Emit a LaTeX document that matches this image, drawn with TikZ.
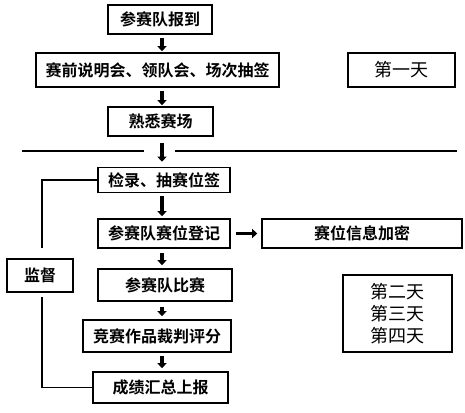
\documentclass[tikz,border=0pt]{standalone}
\usepackage{fontspec}
\setmainfont{Noto Sans CJK SC}
\newfontfamily\cjkb{Noto Sans CJK SC Bold}
\newfontfamily\cjkr{Noto Sans CJK SC}
\usetikzlibrary{arrows.meta}
\begin{document}
\begin{tikzpicture}[x=1pt,y=-1pt,
  box/.style={draw=black,line width=1.6pt,inner sep=0pt,align=center,font=\cjkb\fontsize{16}{18}\selectfont},
  daybox/.style={draw=black,line width=1.6pt,inner sep=0pt,align=center,font=\cjkr\fontsize{18}{22}\selectfont},
  flow/.style={line width=3.2pt,-{Triangle[length=5pt,width=9pt]}},
  sep/.style={line width=1.8pt},
  mon/.style={line width=1.3pt}]
\useasboundingbox (0,0) rectangle (465,412);
\node[box,minimum width=104pt,minimum height=29pt] (b1) at (160,19.5) {参赛队报到};
\node[box,minimum width=243pt,minimum height=34pt] (b2) at (157.5,70) {赛前说明会、领队会、场次抽签};
\node[box,minimum width=105pt,minimum height=29pt] (b3) at (160.5,121.5) {熟悉赛场};
\node[daybox,minimum width=107pt,minimum height=34pt] (d1) at (401.5,70) {第一天};
\node[box,minimum width=132pt,minimum height=25pt] (c1) at (164,180) {检录、抽赛位签};
\node[box,minimum width=132pt,minimum height=29pt] (c2) at (164,233.5) {参赛队赛位登记};
\node[box,minimum width=200pt,minimum height=29pt] (e1) at (362,233.5) {赛位信息加密};
\node[box,minimum width=134pt,minimum height=32pt] (c3) at (165,285) {参赛队比赛};
\node[box,minimum width=148pt,minimum height=32pt] (c4) at (157,336) {竞赛作品裁判评分};
\node[box,minimum width=135pt,minimum height=31pt] (c5) at (160.5,387.5) {成绩汇总上报};
\node[box,minimum width=66pt,minimum height=33pt] (m1) at (40,275.5) {监督};
\node[daybox,minimum width=109pt,minimum height=77pt] (d2) at (397.5,313.5) {第二天\\第三天\\第四天};
% separator
\coordinate (sl) at (22,151);
\coordinate (sm1) at (144,151);
\coordinate (sm2) at (175,151);
\coordinate (sr) at (457,151);
\draw[sep] (sl) -- (sm1);
\draw[sep] (sm2) -- (sr);
% flow arrows
\draw[flow,shorten <=3pt,shorten >=1pt] (b1.south -| 162,0) -- (b2.north -| 162,0);
\draw[flow,shorten <=3pt,shorten >=1pt] (b2.south -| 162,0) -- (b3.north -| 162,0);
\draw[flow,shorten <=6pt,shorten >=5pt] (b3.south -| 162,0) -- (c1.north -| 162,0);
\draw[flow,shorten <=3pt,shorten >=2pt] (c1.south -| 162,0) -- (c2.north -| 162,0);
\draw[flow,shorten <=4pt,shorten >=3pt] (c2.south -| 162,0) -- (c3.north -| 162,0);
\draw[flow,shorten <=5pt,shorten >=3pt] (c3.south -| 162,0) -- (c4.north -| 162,0);
\draw[flow,shorten <=3pt,shorten >=3pt] (c4.south -| 162,0) -- (c5.north -| 162,0);
\draw[flow,shorten <=5pt,shorten >=4pt] (c2.east) -- (e1.west);
% supervision lines
\draw[mon] (c1.west) -| (42,248);
\draw[mon] (42,297) |- (c5.west);
\end{tikzpicture}
\end{document}
